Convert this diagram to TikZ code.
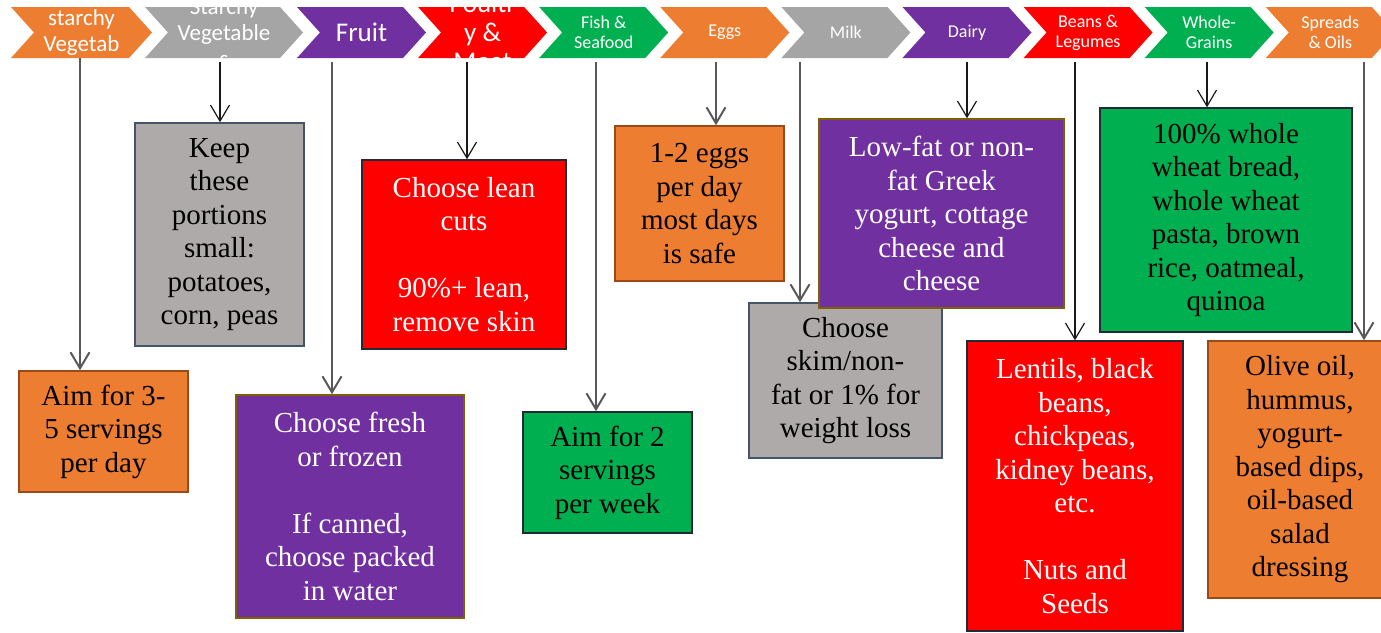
\documentclass[tikz,border=0pt]{standalone}
\usepackage{fontspec}
\setmainfont{Liberation Serif}
\newfontfamily\chevfont{Carlito}
\usetikzlibrary{shapes}
\usetikzlibrary{arrows.meta}

\definecolor{orng}{HTML}{ED7D31}
\definecolor{orngd}{HTML}{9A4A18}
\definecolor{chgray}{HTML}{A5A5A5}
\definecolor{bxgray}{HTML}{AEAAAA}
\definecolor{slate}{HTML}{44546A}
\definecolor{purp}{HTML}{7030A0}
\definecolor{purpd}{HTML}{7F6000}
\definecolor{redd}{HTML}{FF0000}
\definecolor{grn}{HTML}{00B050}
\definecolor{navyd}{HTML}{222A35}
\definecolor{lngray}{HTML}{595959}

\newcommand\chbig{\chevfont\fontsize{23}{26}\selectfont}
\newcommand\chhuge{\chevfont\fontsize{27}{29}\selectfont}
\newcommand\chsmall{\chevfont\fontsize{18}{20}\selectfont}

\begin{document}
\begin{tikzpicture}[x=1pt,y=-1pt]
			\tikzstyle{chev}=[signal, signal from=west, signal to=east, signal pointer angle=96, minimum height=51pt, minimum width=129pt, inner sep=0pt, outer sep=0pt]
			\tikzstyle{chevtxt}=[rectangle, fill=none, draw=none, text=white, align=center, inner sep=0pt, minimum width=0pt, minimum height=0pt]
			\tikzset{lbl/.style 2 args={path picture={\node[chevtxt,font=#1] at (path picture bounding box.center) {#2};}}}
			\tikzstyle{infobox}=[rectangle, line width=1.5pt, align=center, inner sep=0pt, font=\fontsize{29}{33.5}\selectfont]
			\tikzstyle{thn}=[line width=1.2pt, black!90, -{Straight Barb[length=16pt,width=19pt]}]
			\tikzstyle{thk}=[line width=2pt, lngray, -{Straight Barb[length=16pt,width=19pt]}]

			\useasboundingbox (0,0) rectangle (1381,632);

			\node[chev, minimum width=141pt, fill=orng, lbl={\chbig}{starchy\\Vegetab}] (c1) at (81.5,32.5) {};
			\node[chev, minimum width=158pt, fill=chgray, lbl={\chbig}{Starchy\\Vegetable\\s}] (c2) at (224,32.5) {};
			\node[chev, fill=purp, lbl={\chhuge}{Fruit}] (c3) at (361.5,32.5) {};
			\node[chev, fill=redd, lbl={\chhuge}{Poultr\\y \&\\Meat}] (c4) at (482.6,32.5) {};
			\node[chev, fill=grn, lbl={\chsmall}{Fish \&\\Seafood}] (c5) at (603.7,32.5) {};
			\node[chev, fill=orng, lbl={\chsmall}{Eggs}] (c6) at (724.8,32.5) {};
			\node[chev, fill=chgray, lbl={\chsmall}{Milk}] (c7) at (845.9,32.5) {};
			\node[chev, fill=purp, lbl={\chsmall}{Dairy}] (c8) at (967,32.5) {};
			\node[chev, fill=redd, lbl={\chsmall}{Beans \&\\Legumes}] (c9) at (1088.1,32.5) {};
			\node[chev, fill=grn, lbl={\chsmall}{Whole-\\Grains}] (c10) at (1209.2,32.5) {};
			\node[chev, fill=orng, lbl={\chsmall}{Spreads\\\& Oils}] (c11) at (1330.3,32.5) {};

			\node[infobox, fill=orng, draw=orngd, minimum width=169pt, minimum height=121pt] (b1) at (103.5,431.5) {Aim for 3-\\5 servings\\per day};
			\node[infobox, fill=bxgray, draw=slate, minimum width=169pt, minimum height=223pt] (b2) at (219.5,234.5) {Keep\\these\\portions\\small:\\potatoes,\\corn, peas};
			\node[infobox, fill=purp, draw=purpd, text=white, minimum width=228pt, minimum height=223pt] (b3) at (350,506.5) {Choose fresh\\or frozen\\[33.5pt]If canned,\\choose packed\\in water};
			\node[infobox, fill=redd, draw=navyd, text=white, minimum width=204pt, minimum height=189pt] (b4) at (464,254.5) {Choose lean\\cuts\\[33.5pt]90\%+ lean,\\remove skin};
			\node[infobox, fill=grn, draw=navyd, minimum width=169pt, minimum height=121pt] (b5) at (607.5,472.5) {Aim for 2\\servings\\per week};
			\node[infobox, fill=orng, draw=orngd, minimum width=169pt, minimum height=155pt] (b6) at (699.5,203.5) {1-2 eggs\\per day\\most days\\is safe};
			\node[infobox, fill=bxgray, draw=slate, minimum width=193pt, minimum height=155pt] (b7) at (845.5,380.5) {Choose\\skim/non-\\fat or 1\% for\\weight loss};
			\node[infobox, fill=purp, draw=purpd, text=white, minimum width=245pt, minimum height=189pt] (b8) at (941.5,213.5) {Low-fat or non-\\fat Greek\\yogurt, cottage\\cheese and\\cheese};
			\node[infobox, fill=redd, draw=navyd, text=white, minimum width=216pt, minimum height=290pt] (b9) at (1075,486) {Lentils, black\\beans,\\chickpeas,\\kidney beans,\\etc.\\[33.5pt]Nuts and\\Seeds};
			\node[infobox, fill=grn, draw=navyd, minimum width=252pt, minimum height=224pt] (b10) at (1226,220) {100\% whole\\wheat bread,\\whole wheat\\pasta, brown\\rice, oatmeal,\\quinoa};
			\node[infobox, fill=orng, draw=orngd, minimum width=184pt, minimum height=257pt] (b11) at (1300,469.5) {Olive oil,\\hummus,\\yogurt-\\based dips,\\oil-based\\salad\\dressing};

			\draw[thk] (c1.south -| 80,0) -- (b1.north -| 80,0);
			\draw[thn, shorten <=4pt] (c2.south -| 220,0) -- (b2.north -| 220,0);
			\draw[thk, shorten <=4pt] (c3.south -| 332,0) -- (b3.north -| 332,0);
			\draw[thn, shorten <=4pt] (c4.south -| 467,0) -- (b4.north -| 467,0);
			\draw[thk, shorten <=4pt] (c5.south -| 596,0) -- (b5.north -| 596,0);
			\draw[thk, shorten <=4pt] (c6.south -| 716,0) -- (b6.north -| 716,0);
			\draw[thk, shorten <=4pt] (c7.south -| 800,0) -- (b7.north -| 800,0);
			\draw[thn, shorten <=4pt] (c8.south -| 967,0) -- (b8.north -| 967,0);
			\draw[thn, shorten <=4pt] (c9.south -| 1075,0) -- (b9.north -| 1075,0);
			\draw[thn, shorten <=4pt] (c10.south -| 1207,0) -- (b10.north -| 1207,0);
			\draw[thk, shorten <=4pt] (c11.south -| 1364,0) -- (b11.north -| 1364,0);
\end{tikzpicture}
\end{document}
